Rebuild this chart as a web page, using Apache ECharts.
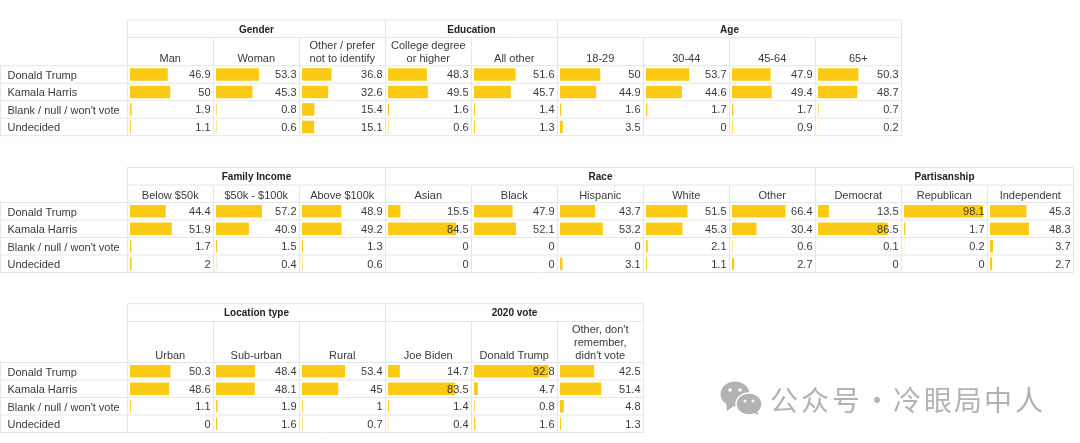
<!DOCTYPE html>
<html>
<head>
<meta charset="utf-8">
<style>html,body{margin:0;padding:0;background:#fff}#c{width:1080px;height:443px}</style>
<script src="https://cdn.jsdelivr.net/npm/echarts@6/dist/echarts.min.js"></script>
</head>
<body>
<div id="c"></div>
<script>
var rowLabels = ['Donald Trump', 'Kamala Harris', 'Blank / null / won\'t vote', 'Undecided'];

var groups1 = [['Gender', 3], ['Education', 2], ['Age', 4]];
var columns1 = ['Man', 'Woman', 'Other / prefer\nnot to identify', 'College degree\nor higher', 'All other', '18-29', '30-44', '45-64', '65+'];
var values1 = [
  [46.9, 50, 1.9, 1.1], [53.3, 45.3, 0.8, 0.6], [36.8, 32.6, 15.4, 15.1],
  [48.3, 49.5, 1.6, 0.6], [51.6, 45.7, 1.4, 1.3],
  [50, 44.9, 1.6, 3.5], [53.7, 44.6, 1.7, 0], [47.9, 49.4, 1.7, 0.9], [50.3, 48.7, 0.7, 0.2]
];

var groups2 = [['Family Income', 3], ['Race', 5], ['Partisanship', 3]];
var columns2 = ['Below $50k', '$50k - $100k', 'Above $100k', 'Asian', 'Black', 'Hispanic', 'White', 'Other', 'Democrat', 'Republican', 'Independent'];
var values2 = [
  [44.4, 51.9, 1.7, 2], [57.2, 40.9, 1.5, 0.4], [48.9, 49.2, 1.3, 0.6],
  [15.5, 84.5, 0, 0], [47.9, 52.1, 0, 0], [43.7, 53.2, 0, 3.1], [51.5, 45.3, 2.1, 1.1], [66.4, 30.4, 0.6, 2.7],
  [13.5, 86.5, 0.1, 0], [98.1, 1.7, 0.2, 0], [45.3, 48.3, 3.7, 2.7]
];

var groups3 = [['Location type', 3], ['2020 vote', 3]];
var columns3 = ['Urban', 'Sub-urban', 'Rural', 'Joe Biden', 'Donald Trump', 'Other, don\'t\nremember,\ndidn\'t vote'];
var values3 = [
  [50.3, 48.6, 1.1, 0], [48.4, 48.1, 1.9, 1.6], [53.4, 45, 1, 0.7],
  [14.7, 83.5, 1.4, 0.4], [92.8, 4.7, 0.8, 1.6], [42.5, 51.4, 4.8, 1.3]
];

var watermark = '公众号·冷眼局中人';

var FONT = '"Liberation Sans", Arial, sans-serif';
var TEXT = '#3a3a3a', LINE = '#e3e6eb', BAR = '#fbca14';
var X0 = 127.5, CW = 86, ROW = 17.5;
var tables = [
  {groups: groups1, cols: columns1, vals: values1, top: 20, groupY: 37.5, bodyY: 65.7},
  {groups: groups2, cols: columns2, vals: values2, top: 167.5, groupY: 185, bodyY: 202.5},
  {groups: groups3, cols: columns3, vals: values3, top: 303.7, groupY: 321.5, bodyY: 362.5}
];

var grids = [], xAxes = [], yAxes = [], series = [], graphics = [];
function line(x1, y1, x2, y2) {
  graphics.push({type: 'line', silent: true, z: 0, shape: {x1: x1, y1: y1, x2: x2, y2: y2}, style: {stroke: LINE, lineWidth: 1}});
}

tables.forEach(function (t) {
  var bottom = t.bodyY + ROW * 4, right = X0 + CW * t.cols.length;
  line(X0, t.top, right, t.top);
  line(X0, t.groupY, right, t.groupY);
  for (var r = 0; r <= 4; r++) line(0, t.bodyY + ROW * r, right, t.bodyY + ROW * r);
  line(0.5, t.bodyY, 0.5, bottom);
  for (var c = 0; c <= t.cols.length; c++) line(X0 + CW * c, t.groupY, X0 + CW * c, bottom);
  var start = 0;
  line(X0, t.top, X0, t.groupY);
  t.groups.forEach(function (g) {
    var x = X0 + CW * start, w = CW * g[1];
    line(x + w, t.top, x + w, t.groupY);
    graphics.push({type: 'text', silent: true, z: 5, x: x + w / 2, y: (t.top + t.groupY) / 2 + 1,
      style: {text: g[0], fill: '#222', font: 'bold 10px ' + FONT, textAlign: 'center', textVerticalAlign: 'middle'}});
    start += g[1];
  });
  t.cols.forEach(function (name, i) {
    var idx = grids.length;
    grids.push({left: X0 + CW * i + 2.5, width: 80.5, top: t.bodyY, height: ROW * 4, containLabel: false});
    xAxes.push({
      gridIndex: idx, type: 'value', min: 0, max: 100, position: 'top',
      name: name, nameLocation: 'middle', nameGap: 0,
      nameTextStyle: {color: TEXT, fontFamily: FONT, fontSize: 11, lineHeight: 13, align: 'center', verticalAlign: 'bottom'},
      axisLine: {show: false}, axisTick: {show: false}, axisLabel: {show: false}, splitLine: {show: false}
    });
    yAxes.push({
      gridIndex: idx, type: 'category', inverse: true, data: rowLabels,
      axisLine: {show: false}, axisTick: {show: false}, splitLine: {show: false},
      axisLabel: {
        show: i === 0, align: 'left', margin: X0 + 2.5 - 7.5, interval: 0, formatter: '{r|{value}}',
        rich: {r: {color: TEXT, fontFamily: FONT, fontSize: 11, lineHeight: 14, padding: [3, 0, 0, 0]}}
      }
    });
    series.push({
      type: 'bar', xAxisIndex: idx, yAxisIndex: idx, data: t.vals[i], barWidth: 12.5,
      itemStyle: {color: BAR}, silent: true, animation: false, z: 2
    });
    series.push({
      type: 'custom', xAxisIndex: idx, yAxisIndex: idx, silent: true, animation: false, z: 3,
      data: t.vals[i].map(function (v, r) { return [v, r]; }),
      encode: {x: 0, y: 1},
      renderItem: function (params, api) {
        var p = api.coord([100, api.value(1)]);
        return {type: 'text', x: p[0], y: p[1] + 1, style: {
          text: String(api.value(0)), fill: TEXT, font: '11px ' + FONT, textAlign: 'right', textVerticalAlign: 'middle'
        }};
      }
    });
  });
});

// watermark
var GREY = '#b2b2b2';
graphics.push({type: 'ellipse', silent: true, z: 6, shape: {cx: 735, cy: 394, rx: 14.5, ry: 12.5}, style: {fill: GREY}});
graphics.push({type: 'polygon', silent: true, z: 6, shape: {points: [[726, 402], [727, 411], [735, 405]]}, style: {fill: GREY}});
graphics.push({type: 'ellipse', silent: true, z: 7, shape: {cx: 749, cy: 404, rx: 13, ry: 11}, style: {fill: GREY, stroke: '#fff', lineWidth: 1.5}});
graphics.push({type: 'polygon', silent: true, z: 7, shape: {points: [[753, 412], [758, 415], [757, 408]]}, style: {fill: GREY}});
[[730, 390, 1.8], [740, 390, 1.8], [745, 401, 1.5], [753, 401, 1.5]].forEach(function (d) {
  graphics.push({type: 'circle', silent: true, z: 8, shape: {cx: d[0], cy: d[1], r: d[2]}, style: {fill: '#fff'}});
});
var wx = [784, 815, 846, 877, 907, 938, 968, 998, 1029];
watermark.split('').forEach(function (ch, i) {
  graphics.push({type: 'text', silent: true, z: 6, x: wx[i], y: 400, style: {
    text: ch, fill: GREY, font: '28px "Noto Sans CJK SC"', textAlign: 'center', textVerticalAlign: 'middle'
  }});
});

var chart = echarts.init(document.getElementById('c'), null, {renderer: 'canvas'});
chart.setOption({
  animation: false, backgroundColor: '#fff',
  grid: grids, xAxis: xAxes, yAxis: yAxes, series: series, graphic: graphics,
  tooltip: {show: false}
});
</script>
</body>
</html>
